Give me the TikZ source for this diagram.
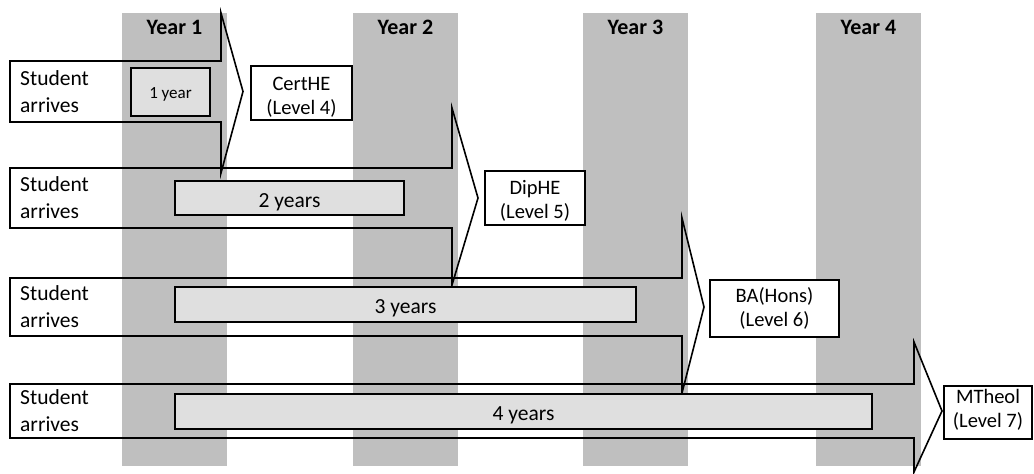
\documentclass[tikz,border=0pt]{standalone}
\usepackage{fontspec}
\setmainfont{Carlito}
\begin{document}
\begin{tikzpicture}[
      x=1pt, y=-1pt,
      outline/.style={draw=black, line width=1.6pt, line join=miter},
      span/.style={draw, line width=1.6pt, fill=gray!25, inner sep=0pt,
                   text height=18pt, text depth=0pt,
                   font=\fontsize{21.5}{25}\selectfont},
      award/.style={draw, line width=1.6pt, fill=white, inner sep=0pt,
                    align=center, font=\fontsize{20.5}{24}\selectfont,
                    text depth=0pt},
      arrives/.style={anchor=west, align=left, inner sep=0pt,
                      font=\fontsize{21.5}{27}\selectfont}
    ]
      \useasboundingbox (0,0) rectangle (1034,474);
      % year columns
      \foreach \n/\xl in {1/122,2/353,3/583,4/816} {
        \fill[gray!50] (\xl,13) rectangle ++(105,453);
        \node[font=\bfseries\fontsize{22}{26}\selectfont] (year\n) at (\xl+52.5,27) {Year \n};
      }
      % block arrows, one per entry route
      \foreach \r/\top/\bot/\xr/\tip/\htop/\hbot in
          {1/61/122/221/243/13/173, 2/168/228/452/478/108/285,
           3/278/336/682/704/218/393, 4/384/438/914/942/342/472} {
        \pgfmathsetmacro{\mid}{(\top+\bot)/2}
        \draw[outline] (10,\top) -- (\xr,\top) -- (\xr,\htop) -- (\tip,\mid)
          -- (\xr,\hbot) -- (\xr,\bot) -- (10,\bot) -- cycle;
        \node[arrives] (arrive\r) at (20,\mid) {Student\\arrives};
      }
      % study durations
      \node[span, minimum width=79pt, minimum height=48pt, text height=12pt,
            font=\fontsize{17}{20}\selectfont] (dur1) at (170.5,92) {1 year};
      \node[span, minimum width=229pt, minimum height=34pt] (dur2) at (289.5,198) {2 years};
      \node[span, minimum width=461pt, minimum height=35pt] (dur3) at (405.5,304.5) {3 years};
      \node[span, minimum width=697pt, minimum height=35pt] (dur4) at (523.5,411.5) {4 years};
      % awards
      \node[award, text height=43pt, minimum width=101pt, minimum height=54pt] (cert) at (301.5,93) {CertHE\\(Level 4)};
      \node[award, text height=40pt, minimum width=100pt, minimum height=54pt] (dip) at (535,198) {DipHE\\(Level 5)};
      \node[award, text height=35pt, minimum width=129pt, minimum height=57pt] (ba) at (774.5,308.5) {BA(Hons)\\(Level 6)};
      \node[award, text height=30pt, minimum width=88pt, minimum height=53pt] (mth) at (988,412.5) {MTheol\\(Level 7)};
    \end{tikzpicture}
\end{document}
